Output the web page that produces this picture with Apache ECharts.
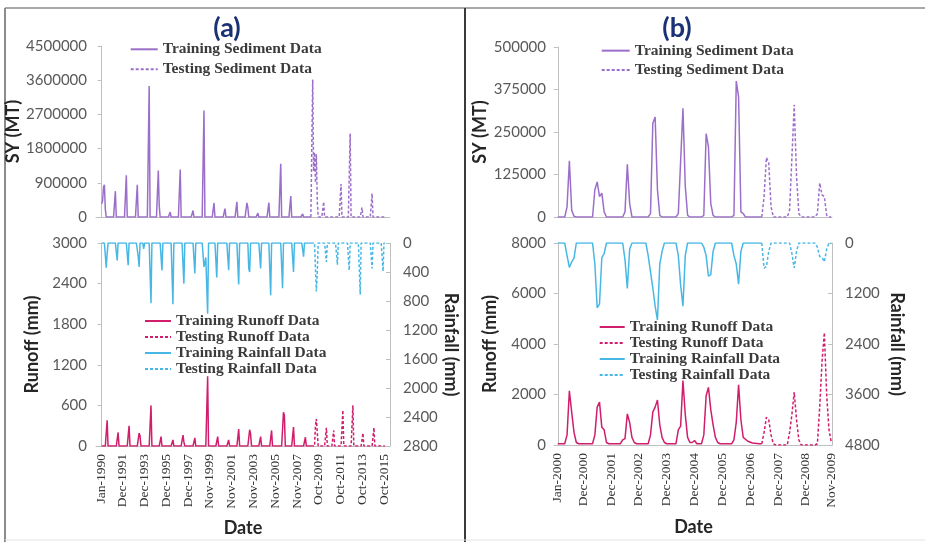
<!DOCTYPE html>
<html>
<head>
<meta charset="utf-8">
<style>
html, body {margin: 0; padding: 0; background: #fff;}
#chart {width: 925px; height: 542px;}
</style>
<script src="https://cdn.jsdelivr.net/npm/echarts@6/dist/echarts.min.js"></script>
</head>
<body>
<div id="chart"></div>
<script>
// month index (0 = first month of record) -> value

// panel (a): Jan-1990 .. Dec-2015
const labelsA = ['Jan-1990', 'Dec-1991', 'Dec-1993', 'Dec-1995', 'Dec-1997', 'Nov-1999', 'Nov-2001',
	'Nov-2003', 'Nov-2005', 'Nov-2007', 'Oct-2009', 'Oct-2011', 'Oct-2013', 'Oct-2015'];
const labelMonthsA = [0, 23, 47, 71, 95, 118, 142, 166, 190, 214, 237, 261, 285, 309];

const sedTrainA = [[0, 350000], [1, 420000], [2, 780000], [3, 850000], [4, 200000], [5, 0],
	[13, 0], [15, 680000], [16, 0], [25, 0], [27, 1100000], [28, 0], [37, 0], [39, 850000], [40, 0],
	[50, 0], [52, 3450000], [53, 0], [60, 0], [62, 1220000], [63, 300000], [64, 0],
	[73, 0], [75, 130000], [76, 0], [84, 0], [86, 1250000], [87, 0], [98, 0], [100, 170000], [101, 0],
	[110, 0], [112, 2800000], [113, 0], [121, 0], [123, 370000], [124, 0], [133, 0], [135, 220000], [136, 0],
	[146, 0], [148, 400000], [149, 0], [157, 0], [159, 370000], [160, 250000], [161, 0],
	[169, 0], [171, 100000], [172, 0], [181, 0], [183, 380000], [184, 0], [194, 0], [196, 1400000], [197, 0],
	[205, 0], [207, 550000], [208, 0], [218, 0], [220, 80000], [221, 0], [229, 0]];
const sedTestA = [[229, 0], [231, 3620000], [232, 1200000], [233, 1700000], [234, 900000], [235, 1650000],
	[236, 400000], [237, 0], [241, 0], [243, 400000], [244, 0], [251, 0], [253, 50000], [254, 0],
	[260, 0], [262, 870000], [263, 0], [270, 0], [272, 2200000], [273, 0], [283, 0], [285, 250000], [286, 0],
	[294, 0], [296, 620000], [297, 0], [310, 0]];

const runTrainA = [[0, 0], [4, 0], [6, 380], [7, 0], [16, 0], [18, 200], [19, 0], [28, 0], [30, 300], [31, 0],
	[39, 0], [41, 190], [42, 150], [43, 0], [52, 0], [54, 600], [55, 0], [63, 0], [65, 140], [66, 0],
	[76, 0], [78, 90], [79, 0], [87, 0], [89, 160], [90, 60], [91, 0], [100, 0], [102, 120], [103, 0],
	[114, 0], [116, 1030], [117, 0], [125, 0], [127, 140], [128, 0], [137, 0], [139, 90], [140, 0],
	[148, 0], [150, 250], [151, 0], [160, 0], [162, 240], [163, 180], [164, 0], [172, 0], [174, 140], [175, 0],
	[184, 0], [186, 230], [187, 0], [197, 0], [199, 500], [200, 450], [201, 0], [208, 0], [210, 280], [211, 0],
	[221, 0], [223, 130], [224, 0], [229, 0]];
const runTestA = [[229, 0], [233, 0], [234, 300], [235, 400], [236, 200], [237, 0], [244, 0], [246, 270], [247, 0],
	[252, 0], [254, 230], [255, 0], [262, 0], [264, 530], [265, 0], [273, 0], [275, 600], [276, 0],
	[284, 0], [286, 190], [287, 0], [296, 0], [298, 270], [299, 0], [310, 0]];

const rainTrainA = [[0, 0], [3, 0], [5, 340], [6, 150], [7, 0], [15, 0], [17, 240], [18, 0], [27, 0], [29, 305], [30, 0],
	[38, 0], [40, 190], [41, 330], [42, 0], [45, 0], [46, 80], [47, 0], [52, 0], [54, 830], [55, 0],
	[64, 0], [66, 380], [67, 0], [76, 0], [78, 845], [79, 0], [88, 0], [90, 560], [91, 0], [100, 0], [102, 420], [103, 0],
	[110, 0], [112, 330], [114, 200], [116, 975], [117, 0], [124, 0], [126, 475], [127, 0], [137, 0], [139, 375], [140, 0],
	[148, 0], [150, 573], [151, 0], [160, 0], [161, 350], [162, 400], [163, 0], [172, 0], [174, 350], [175, 0],
	[183, 0], [185, 720], [186, 0], [196, 0], [198, 625], [199, 0], [208, 0], [210, 400], [211, 0],
	[219, 0], [221, 190], [222, 0], [229, 0]];
const rainTestA = [[229, 0], [233, 0], [234, 350], [235, 670], [236, 400], [237, 0], [244, 0], [246, 260], [247, 0],
	[256, 0], [258, 300], [259, 0], [269, 0], [271, 375], [272, 0], [281, 0], [283, 710], [284, 0],
	[294, 0], [296, 350], [297, 0], [306, 0], [308, 390], [309, 0], [310, 0]];

// panel (b): Jan-2000 .. Nov-2009
const labelsB = ['Jan-2000', 'Dec-2000', 'Dec-2001', 'Dec-2002', 'Dec-2003', 'Dec-2004', 'Dec-2005',
	'Dec-2006', 'Dec-2007', 'Dec-2008', 'Nov-2009'];
const labelMonthsB = [0, 11, 23, 35, 47, 59, 71, 83, 95, 107, 118];

const sedTrainB = [[0, 0], [3, 0], [4, 30000], [5, 165000], [6, 20000], [7, 2000], [8, 0],
	[15, 0], [16, 80000], [17, 103000], [18, 60000], [19, 70000], [20, 15000], [21, 0],
	[28, 0], [29, 15000], [30, 155000], [31, 40000], [32, 0],
	[39, 0], [40, 10000], [41, 276000], [42, 294000], [43, 80000], [44, 5000], [45, 0],
	[51, 0], [52, 10000], [54, 320000], [55, 90000], [56, 5000], [57, 0],
	[62, 0], [63, 5000], [64, 245000], [65, 206000], [66, 40000], [67, 5000], [68, 0],
	[75, 0], [76, 5000], [77, 400000], [78, 353000], [79, 15000], [80, 10000], [81, 0], [88, 0]];
const sedTestB = [[88, 0], [89, 60000], [90, 175000], [91, 160000], [92, 30000], [93, 0],
	[99, 0], [100, 20000], [102, 330000], [103, 120000], [104, 10000], [105, 0],
	[111, 0], [112, 10000], [113, 100000], [114, 65000], [115, 60000], [116, 5000], [117, 0], [118, 0]];

const runTrainB = [[0, 50], [3, 50], [4, 400], [5, 2150], [6, 1300], [7, 500], [8, 100], [9, 50],
	[15, 50], [16, 400], [17, 1500], [18, 1700], [19, 700], [20, 600], [21, 100], [22, 50],
	[27, 50], [28, 200], [29, 250], [30, 1230], [31, 900], [32, 300], [33, 100], [34, 50],
	[39, 50], [40, 400], [41, 1300], [42, 1500], [43, 1780], [44, 800], [45, 300], [46, 100], [47, 50],
	[51, 50], [52, 600], [53, 750], [54, 2550], [55, 1200], [56, 300], [57, 100], [58, 100], [59, 180], [60, 50],
	[62, 50], [63, 400], [64, 1950], [65, 2280], [66, 1400], [67, 800], [68, 300], [69, 100], [70, 50],
	[75, 50], [76, 200], [77, 900], [78, 2380], [79, 1000], [80, 300], [82, 150], [84, 80], [87, 50], [88, 50]];
const runTestB = [[88, 50], [89, 500], [90, 1100], [91, 1000], [92, 400], [93, 50], [94, 0],
	[99, 0], [100, 500], [101, 1200], [102, 2100], [103, 1000], [104, 200], [105, 0],
	[111, 0], [112, 50], [113, 1500], [114, 3300], [115, 4450], [116, 2000], [117, 600], [118, 100]];

const rainTrainB = [[0, 0], [3, 0], [4, 300], [5, 580], [6, 450], [7, 360], [8, 0],
	[15, 0], [16, 500], [17, 1540], [18, 1450], [19, 350], [20, 250], [21, 0],
	[28, 0], [29, 400], [30, 1080], [31, 150], [32, 0],
	[38, 0], [39, 300], [41, 1070], [42, 1500], [43, 1830], [44, 500], [45, 200], [46, 0],
	[51, 0], [52, 300], [53, 1000], [54, 1500], [55, 300], [56, 0],
	[62, 0], [63, 100], [64, 300], [65, 790], [66, 750], [67, 200], [68, 0],
	[75, 0], [76, 300], [77, 500], [78, 980], [79, 200], [80, 0], [88, 0]];
const rainTestB = [[88, 0], [89, 600], [90, 560], [91, 200], [92, 0],
	[100, 0], [101, 250], [102, 590], [103, 200], [104, 0],
	[111, 0], [112, 100], [113, 320], [114, 340], [115, 445], [116, 150], [117, 0], [118, 0]];

const SED = '#9b6fc9';
const RUN = '#d01d6c';
const RAIN = '#47b8e6';
const AXIS = '#bfbfbf';
const SANS = 'Lato';
const SERIF = 'Liberation Serif';

const tickLabel = {color: '#595959', fontSize: 15, fontFamily: SANS, formatter: v => String(v)};
const axisName = {color: '#262626', fontSize: 18, fontWeight: 'bold', fontFamily: SANS};

function line(name, data, xAxisIndex, yAxisIndex, color, dashed)
{
	return {
		name, data, xAxisIndex, yAxisIndex,
		type: 'line',
		symbol: 'none',
		animation: false,
		lineStyle: {color, width: 1.5, type: dashed ? [3, 2] : 'solid'},
		itemStyle: {color}
	};
}

function dateAxis(gridIndex, min, max, months, labels, shown)
{
	return {
		gridIndex, min, max,
		type: 'value',
		axisLine: {show: true, lineStyle: {color: AXIS, width: 1}},
		axisTick: {show: false},
		splitLine: {show: false},
		axisLabel: shown ? {
			customValues: months,
			rotate: 90,
			margin: 8,
			color: '#333',
			fontSize: 13.5,
			fontFamily: SERIF,
			formatter: v => labels[months.indexOf(v)]
		} : {show: false},
		name: shown ? 'Date' : '',
		nameLocation: 'middle',
		nameGap: 73,
		nameTextStyle: axisName
	};
}

function valueAxis(gridIndex, max, interval, name, nameGap, right)
{
	return {
		gridIndex, max, interval,
		min: 0,
		type: 'value',
		position: right ? 'right' : 'left',
		inverse: !!right,
		axisLine: {show: true, lineStyle: {color: AXIS, width: 1}},
		axisTick: {show: true, inside: !!right, length: 4, lineStyle: {color: AXIS}},
		splitLine: {show: false},
		axisLabel: {...tickLabel, margin: right ? 13 : 9},
		name,
		nameGap,
		nameLocation: 'middle',
		nameRotate: right ? -90 : 90,
		nameTextStyle: axisName
	};
}

function legend(left, top, width, names, rowHeight)
{
	return {
		left, top,
		padding: 0,
		orient: 'vertical',
		itemWidth: width,
		itemHeight: 10,
		itemGap: 0,
		selectedMode: false,
		itemStyle: {opacity: 0},
		data: names,
		textStyle: {color: '#3b3b3b', fontSize: 15.5, fontWeight: 'bold', fontFamily: SERIF, lineHeight: rowHeight}
	};
}

const sedNames = ['Training Sediment Data', 'Testing Sediment Data'];
const flowNames = ['Training Runoff Data', 'Testing Runoff Data', 'Training Rainfall Data', 'Testing Rainfall Data'];

const chart = echarts.init(document.getElementById('chart'), null, {renderer: 'canvas'});
chart.setOption({
	backgroundColor: '#fff',
	animation: false,
	title: [
		{text: '(a)', left: 222, top: 10, textAlign: 'center',
			textStyle: {color: '#1a3275', fontSize: 27, fontWeight: 'bold', fontFamily: SANS}},
		{text: '(b)', left: 672, top: 10, textAlign: 'center',
			textStyle: {color: '#1a3275', fontSize: 27, fontWeight: 'bold', fontFamily: SANS}}
	],
	grid: [
		{left: 96, top: 46, width: 294, height: 171},
		{left: 96, top: 243, width: 294, height: 203},
		{left: 555, top: 47, width: 277, height: 170},
		{left: 555, top: 243, width: 277, height: 202}
	],
	legend: [
		legend(129.7, 39.3, 27, sedNames, 20),
		legend(144, 313, 26, flowNames, 15.2),
		legend(600.7, 41, 28, sedNames, 19.3),
		legend(598.7, 319, 25, flowNames, 15.4)
	],
	xAxis: [
		dateAxis(0, -6.2, 315.6, labelMonthsA, labelsA, false),
		dateAxis(1, -6.2, 315.6, labelMonthsA, labelsA, true),
		dateAxis(2, -1.2, 118.3, labelMonthsB, labelsB, false),
		dateAxis(3, -1.2, 118.3, labelMonthsB, labelsB, true)
	],
	yAxis: [
		valueAxis(0, 4500000, 900000, 'SY (MT)', 58, false),
		valueAxis(1, 3000, 600, 'Runoff (mm)', 55, false),
		valueAxis(1, 2800, 400, 'Rainfall (mm)', 40, true),
		valueAxis(2, 500000, 125000, 'SY (MT)', 66, false),
		valueAxis(3, 8000, 2000, 'Runoff (mm)', 56, false),
		valueAxis(3, 4800, 1200, 'Rainfall (mm)', 56, true)
	],
	series: [
		line('Training Sediment Data', sedTrainA, 0, 0, SED, false),
		line('Testing Sediment Data', sedTestA, 0, 0, SED, true),
		line('Training Rainfall Data', rainTrainA, 1, 2, RAIN, false),
		line('Testing Rainfall Data', rainTestA, 1, 2, RAIN, true),
		line('Training Runoff Data', runTrainA, 1, 1, RUN, false),
		line('Testing Runoff Data', runTestA, 1, 1, RUN, true),
		line('Training Sediment Data', sedTrainB, 2, 3, SED, false),
		line('Testing Sediment Data', sedTestB, 2, 3, SED, true),
		line('Training Rainfall Data', rainTrainB, 3, 5, RAIN, false),
		line('Testing Rainfall Data', rainTestB, 3, 5, RAIN, true),
		line('Training Runoff Data', runTrainB, 3, 4, RUN, false),
		line('Testing Runoff Data', runTestB, 3, 4, RUN, true)
	],
	graphic: [
		{type: 'line', shape: {x1: 5, y1: 8, x2: 5, y2: 542}, style: {stroke: '#8c8c8c', lineWidth: 2}},
		{type: 'line', shape: {x1: 5, y1: 8, x2: 925, y2: 8}, style: {stroke: '#8c8c8c', lineWidth: 1.5}},
		{type: 'line', shape: {x1: 465, y1: 8, x2: 465, y2: 542}, style: {stroke: '#3a3a3a', lineWidth: 2}},
		{type: 'line', shape: {x1: 5, y1: 540, x2: 925, y2: 540}, style: {stroke: '#e2e2e2', lineWidth: 1}}
	]
});
</script>
</body>
</html>
